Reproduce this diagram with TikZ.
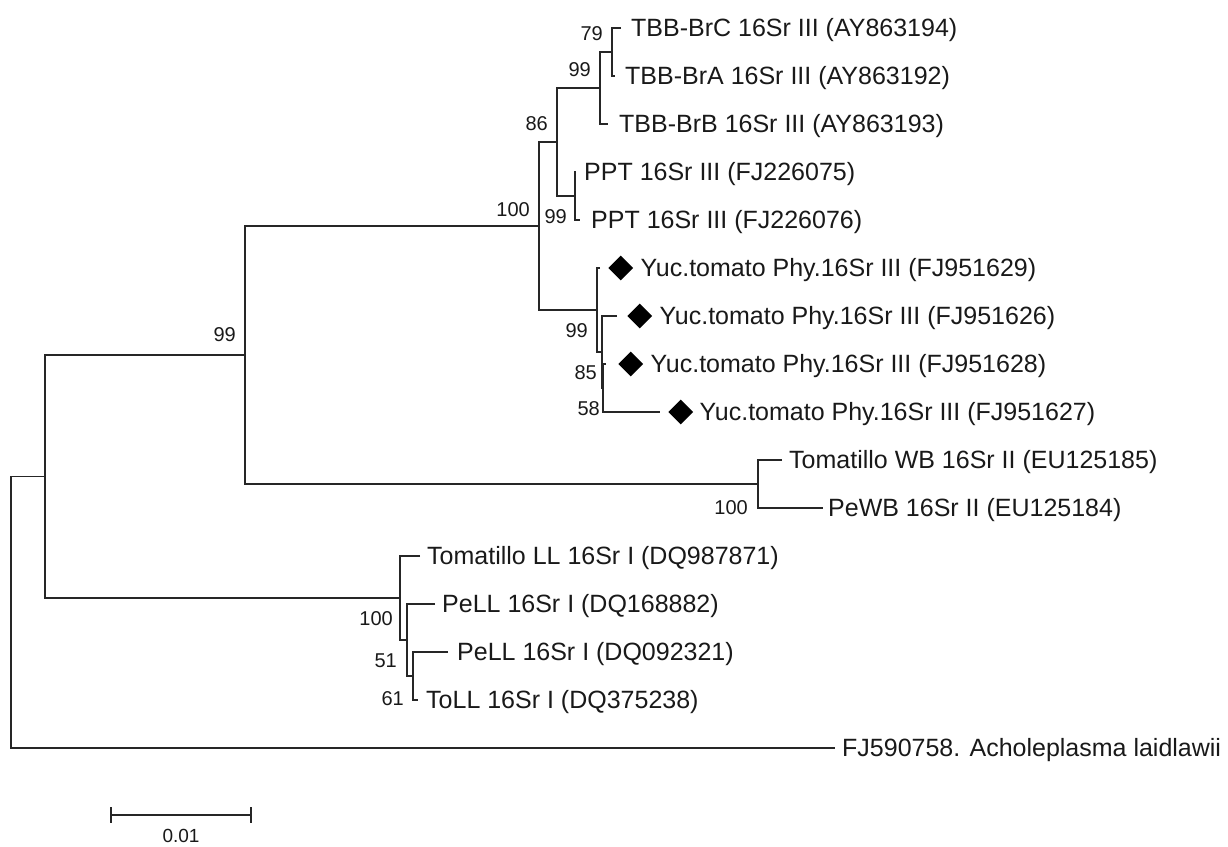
\documentclass[tikz,border=0pt]{standalone}
\usepackage{fontspec}
\setmainfont{Liberation Sans}
\usetikzlibrary{positioning,shapes.geometric}
\tikzset{
  branch/.style={line width=1.9pt, draw=black!85, line join=miter},
  taxon/.style={inner sep=0pt, text=black!90, text height=17.9pt, text depth=0pt,
    font=\fontsize{25}{25}\selectfont},
  boot/.style={inner sep=0pt, text=black!90, text height=14.3pt, text depth=0pt,
    font=\fontsize{20}{20}\selectfont},
  yucmark/.style={diamond, fill=black, inner sep=0pt, minimum size=25pt},
}

\begin{document}
\begin{tikzpicture}[x=1pt, y=-1pt]
  \useasboundingbox (0,0) rectangle (1228,846);

  \coordinate (r) at (11,612);
  \coordinate (a) at (45,476.5);
  \coordinate (b) at (245,355);
  \coordinate (k) at (539,226);
  \coordinate (h) at (557,142);
  \coordinate (g) at (600,88);
  \coordinate (i) at (612,52);
  \coordinate (j) at (575,196);
  \coordinate (l) at (597,310);
  \coordinate (m) at (602,352);
  \coordinate (n) at (603,388);
  \coordinate (f) at (758,484);
  \coordinate (c) at (400,598);
  \coordinate (d) at (407,640);
  \coordinate (e) at (413,676);

  \coordinate (t1) at (621,28);
  \coordinate (t2) at (615,76);
  \coordinate (t3) at (608,124);
  \coordinate (t4) at (576,172);
  \coordinate (t5) at (580,220);
  \coordinate (t6) at (600,268);
  \coordinate (t7) at (617,316);
  \coordinate (t8) at (606,364);
  \coordinate (t9) at (660,412);
  \coordinate (t10) at (782,460);
  \coordinate (t11) at (823,508);
  \coordinate (t12) at (420,556);
  \coordinate (t13) at (435,604);
  \coordinate (t14) at (448,652);
  \coordinate (t15) at (418,700);
  \coordinate (t16) at (835,748);

  \draw[branch] (a) -| (r) |- (t16);
  \draw[branch] (b) -| (a) |- (c);
  \draw[branch] (k) -| (b) |- (f);
  \draw[branch] (h) -| (k) |- (l);
  \draw[branch] (g) -| (h) |- (j);
  \draw[branch] (i) -| (g) |- (t3);
  \draw[branch] (t1) -| (i) |- (t2);
  \draw[branch] (t4) -| (j) |- (t5);
  \draw[branch] (t6) -| (l) |- (m);
  \draw[branch] (t7) -| (m) |- (n);
  \draw[branch] (t8) -| (n) |- (t9);
  \draw[branch] (t10) -| (f) |- (t11);
  \draw[branch] (t12) -| (c) |- (d);
  \draw[branch] (t13) -| (d) |- (e);
  \draw[branch] (t14) -| (e) |- (t15);

  \node[taxon, right=10pt of t1] (l1) {TBB-BrC 16Sr III (AY863194)};
  \node[taxon, right=10pt of t2] (l2) {TBB-BrA 16Sr III (AY863192)};
  \node[taxon, right=11pt of t3] (l3) {TBB-BrB 16Sr III (AY863193)};
  \node[taxon, right=8pt of t4] (l4) {PPT 16Sr III (FJ226075)};
  \node[taxon, right=11pt of t5] (l5) {PPT 16Sr III (FJ226076)};
  \node[yucmark, right=8pt of t6] (y6) {};
  \node[taxon, right=7pt of y6] (l6) {Yuc.tomato Phy.16Sr III (FJ951629)};
  \node[yucmark, right=10pt of t7] (y7) {};
  \node[taxon, right=7pt of y7] (l7) {Yuc.tomato Phy.16Sr III (FJ951626)};
  \node[yucmark, right=12pt of t8] (y8) {};
  \node[taxon, right=7pt of y8] (l8) {Yuc.tomato Phy.16Sr III (FJ951628)};
  \node[yucmark, right=8pt of t9] (y9) {};
  \node[taxon, right=6pt of y9] (l9) {Yuc.tomato Phy.16Sr III (FJ951627)};
  \node[taxon, right=7pt of t10] (l10) {Tomatillo WB 16Sr II (EU125185)};
  \node[taxon, right=5pt of t11] (l11) {PeWB 16Sr II (EU125184)};
  \node[taxon, right=7pt of t12] (l12) {Tomatillo LL 16Sr I (DQ987871)};
  \node[taxon, right=7pt of t13] (l13) {PeLL 16Sr I (DQ168882)};
  \node[taxon, right=9pt of t14] (l14) {PeLL 16Sr I (DQ092321)};
  \node[taxon, right=8pt of t15] (l15) {ToLL 16Sr I (DQ375238)};
  \node[taxon, right=7pt of t16] (l16) {FJ590758. Acholeplasma laidlawii};

  \node[boot, above left=11pt and 9pt of i] (bi) {79};
  \node[boot, above left=11pt and 9pt of g] (bg) {99};
  \node[boot, above left=11pt and 9pt of h] (bh) {86};
  \node[boot, above left=9pt and 9pt of k] (bk) {100};
  \node[boot, below left=13pt and 8pt of j] (bj) {99};
  \node[boot, below left=13pt and 9pt of l] (bl) {99};
  \node[boot, below left=13pt and 5pt of m] (bm) {85};
  \node[boot, below left=13pt and 3pt of n] (bn) {58};
  \node[boot, above left=13pt and 9pt of b] (bb) {99};
  \node[boot, below left=16pt and 10pt of f] (bf) {100};
  \node[boot, below left=13pt and 7pt of c] (bc) {100};
  \node[boot, below left=13pt and 10pt of d] (bd) {51};
  \node[boot, below left=15pt and 9pt of e] (be) {61};

  \coordinate (s1) at (111,815);
  \coordinate (s2) at (251,815);
  \coordinate (sm) at (181,815);
  \draw[branch] (s1) -- (s2);
  \draw[branch] ([yshift=8pt]s1) -- ([yshift=-8pt]s1);
  \draw[branch] ([yshift=8pt]s2) -- ([yshift=-8pt]s2);
  \node[boot, text height=13.6pt, font=\fontsize{19}{19}\selectfont,
    below=14pt of sm] (sl) {0.01};
\end{tikzpicture}
\end{document}
